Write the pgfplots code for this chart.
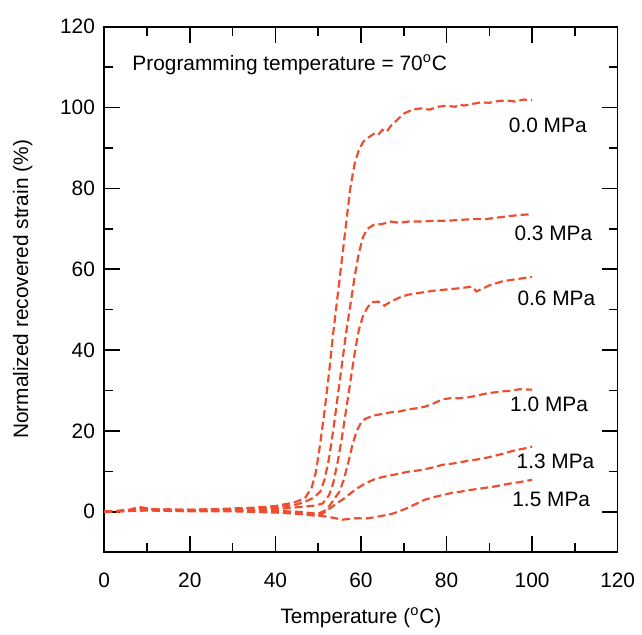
\documentclass[border=0pt]{standalone}
\usepackage{pgfplots}
\pgfplotsset{compat=1.18}
\usepackage{fontspec}
\setmainfont{Liberation Sans}
\definecolor{curve}{RGB}{238,78,48}
\pgfplotsset{crv/.style={curve, mark=none, line width=1.1pt, dash pattern=on 4pt off 2pt}}
\begin{document}
\fontsize{10.5}{12.5}\selectfont
\begin{tikzpicture}
\begin{axis}[
  scale only axis, width=258.5pt, height=264.5pt,
  xmin=0, xmax=120, ymin=-10, ymax=120,
  xtick={0,20,...,120}, ytick={0,20,...,120},
  minor x tick num=1, minor y tick num=1,
  tick align=inside, major tick length=8pt, minor tick length=4.5pt,
  axis line style={line width=0.8pt}, every tick/.style={line width=0.8pt, black},
  xticklabel shift=7pt, yticklabel shift=1pt,
  /pgf/number format/assume math mode=true,
  /pgf/number format/1000 sep={},
  every axis y label/.style={at={(rel axis cs:0,0.5)}, xshift=-41pt, rotate=90, anchor=center},
  every axis x label/.style={at={(rel axis cs:0.5,0)}, yshift=-33pt, anchor=center},
  xlabel={Temperature (\textsuperscript{o}C)},
  ylabel={Normalized recovered strain (\%)},
  clip=false,
]
% 0.0 MPa
\addplot[crv] coordinates {(0,0) (3,0.2) (6,0.5) (8,1.2) (10,0.8) (12,0.5) (15,0.6) (20,0.4) (25,0.6) (30,0.8) (35,1.0) (40,1.4) (43,2.0) (45,2.5) (47,3.5) (48.5,6) (49.5,10) (50.5,17) (51.5,25) (52.5,34) (53.5,44) (54.5,53) (55.5,62) (56.5,71) (57.5,80) (58.5,86) (59.5,89.5) (60.5,91.5) (62,92.8) (63,93.5) (64,93.2) (65,94.5) (66,94.0) (67,95.5) (68,96.5) (69,97.5) (70,98.5) (72,99.5) (74,99.8) (76,99.5) (78,100.2) (80,100.5) (82,100.2) (83,100.8) (84,100.5) (86,100.9) (88,101.3) (90,101.2) (92,101.6) (94,101.8) (96,101.5) (98,102) (100,101.8)};
% 0.3 MPa
\addplot[crv] coordinates {(0,0) (5,0.3) (9,1.0) (12,0.4) (20,0.5) (30,0.6) (38,0.9) (42,1.3) (45,1.8) (47,2.5) (49,3.5) (50.5,5) (51.5,8) (52.5,13) (53.5,20) (54.5,28) (55.5,36) (56.5,44) (57.5,51) (58.5,58) (59.5,64) (60.5,68) (61.5,70) (63,71) (65,71.2) (67,71.8) (69,71.5) (71,71.8) (74,71.8) (77,72.0) (80,72.0) (83,72.2) (86,72.4) (89,72.4) (92,72.8) (95,73.2) (98,73.5) (100,73.6)};
% 0.6 MPa
\addplot[crv] coordinates {(0,0) (5,0.2) (9,0.8) (15,0.4) (25,0.5) (35,0.5) (42,0.8) (46,1.2) (49,1.5) (51,2) (52.5,4) (53.5,7) (54.5,12) (55.5,18) (56.5,25) (57.5,32) (58.5,39) (59.5,45) (60.5,48.5) (61.5,50.5) (62.5,51.8) (64,52) (65.5,51.0) (67,52) (69,53) (71,53.7) (74,54.2) (77,54.7) (80,55) (83,55.3) (86,55.7) (87,54.5) (88,55.0) (90,56) (93,57) (96,57.5) (100,58.1)};
% 1.0 MPa
\addplot[crv] coordinates {(0,0) (5,0.2) (10,0.6) (20,0.3) (30,0.3) (40,0.2) (45,0.0) (48,-0.3) (50,-0.5) (52,0.5) (53,2) (54,3.5) (55,5) (56,8) (57,12) (58,16.5) (59,20) (60,22) (61,23) (63,23.8) (65,24.2) (67,24.6) (69,24.8) (71,25.3) (73,25.6) (75,26) (77,26.8) (79,27.8) (81,28.1) (83,28.1) (85,28.3) (87,28.7) (89,29.2) (91,29.5) (93,29.8) (95,29.9) (97,30.3) (100,30.2)};
% 1.3 MPa
\addplot[crv] coordinates {(0,0) (10,0.4) (20,0.2) (30,0.2) (40,0) (45,-0.4) (48,-0.8) (50,-1.0) (51,-0.5) (52,0.2) (53,1) (54.5,2.2) (56,3.2) (57.5,4.5) (59,5.7) (61,7) (63.5,8.2) (66,8.8) (68,9.2) (71,9.9) (74,10.3) (77,11) (79,11.6) (82,12.0) (85,12.6) (87,12.9) (90,13.5) (93,14.3) (96,15.2) (98,15.6) (100,16.1)};
% 1.5 MPa
\addplot[crv] coordinates {(0,0) (10,0.3) (20,0.1) (30,0.1) (40,-0.2) (45,-0.5) (48,-0.8) (50,-1.0) (52,-1.2) (54,-1.6) (55.5,-2) (57,-1.8) (59,-1.6) (61,-1.7) (63,-1.4) (65,-1.0) (67,-0.6) (69,0.1) (71,1.0) (73,2.0) (75,3.0) (77,3.6) (79,4.1) (81,4.6) (83,4.9) (85,5.3) (87,5.6) (89,5.9) (91,6.2) (93,6.6) (95,7.0) (97,7.3) (100,7.9)};
\node[anchor=west, inner sep=0pt] at (axis cs:6.5,110.6) {Programming temperature = 70\textsuperscript{o}C};
\node[anchor=west, inner sep=0pt] at (axis cs:94.5,95.7) {0.0 MPa};
\node[anchor=west, inner sep=0pt] at (axis cs:95.8,68.8) {0.3 MPa};
\node[anchor=west, inner sep=0pt] at (axis cs:96.5,52.7) {0.6 MPa};
\node[anchor=west, inner sep=0pt] at (axis cs:94.8,26.5) {1.0 MPa};
\node[anchor=west, inner sep=0pt] at (axis cs:96.3,12.4) {1.3 MPa};
\node[anchor=west, inner sep=0pt] at (axis cs:95.3,3) {1.5 MPa};
\end{axis}
\path (current axis.north) ++(0,13.5pt) coordinate (topext);
\path (current axis.west) ++(-52.5pt,0) coordinate (leftext);
\path (current axis.east) ++(10pt,0) coordinate (rightext);
\end{tikzpicture}
\end{document}
